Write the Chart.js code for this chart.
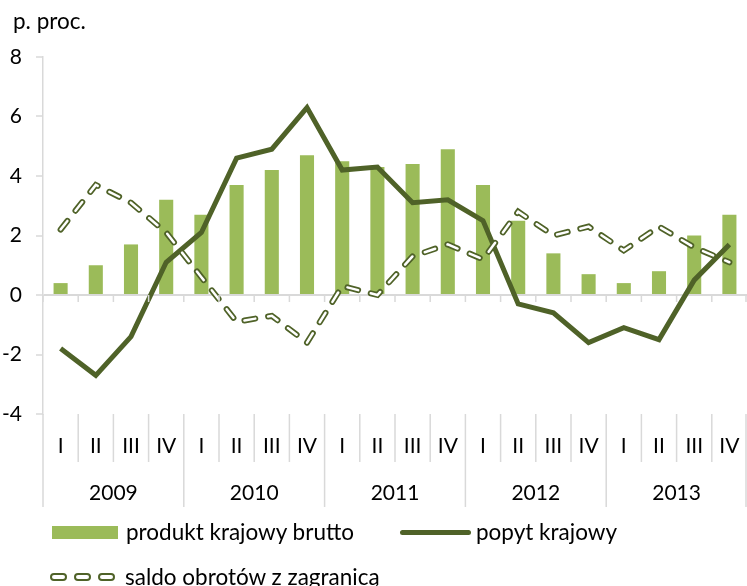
<!DOCTYPE html>
<html lang="pl">
<head>
<meta charset="utf-8">
<script src="https://cdn.jsdelivr.net/npm/chart.js@4.4.0/dist/chart.umd.min.js"></script>
<style>
    html, body { margin: 0; padding: 0; background: #fff; }
    #wrap { position: relative; width: 747px; height: 586px; overflow: hidden; font-family: Lato, sans-serif; }
    #chart { position: absolute; left: 0; top: 0; }
    .unit { position: absolute; left: 13px; top: 9px; height: 24px; line-height: 24px; font-size: 22.5px; color: #000; }
    .legend-item { position: absolute; display: flex; align-items: center; height: 24px; line-height: 24px; font-size: 22.5px; color: #000; white-space: nowrap; }
    .sw-bar { width: 66px; height: 13px; background: #9BBB59; margin-right: 8px; }
    .sw-line { width: 71px; height: 5px; border-radius: 3px; background: #4F6228; margin-right: 5px; }
    .sw-dash { width: 13px; height: 4px; border: 2px solid #4F6228; border-radius: 5px; background: #fff; margin-right: 7px; }
</style>
</head>
<body>
<div id="wrap">
    <canvas id="chart" width="747" height="586"></canvas>
    <div class="unit">p. proc.</div>
    <div class="legend-item" style="left: 52px; top: 520px;"><span class="sw-bar"></span>produkt krajowy brutto</div>
    <div class="legend-item" style="left: 400px; top: 520px;"><span class="sw-line"></span>popyt krajowy</div>
    <div class="legend-item" style="left: 50px; top: 565px;"><span class="sw-dash"></span><span class="sw-dash"></span><span class="sw-dash"></span><span style="margin-left: 3px;">saldo obrotów z zagranicą</span></div>
</div>
<script>
// Data
const years = ['2009', '2010', '2011', '2012', '2013'];
const quarters = ['I', 'II', 'III', 'IV'];
const gdp = [0.4, 1.0, 1.7, 3.2, 2.7, 3.7, 4.2, 4.7, 4.5, 4.3, 4.4, 4.9, 3.7, 2.5, 1.4, 0.7, 0.4, 0.8, 2.0, 2.7];
const domesticDemand = [-1.8, -2.7, -1.4, 1.1, 2.1, 4.6, 4.9, 6.3, 4.2, 4.3, 3.1, 3.2, 2.5, -0.3, -0.6, -1.6, -1.1, -1.5, 0.5, 1.7];
const netExports = [2.2, 3.7, 3.1, 2.1, 0.6, -0.9, -0.7, -1.6, 0.3, 0.0, 1.3, 1.7, 1.2, 2.8, 2.0, 2.3, 1.5, 2.3, 1.6, 1.1];

const labels = years.flatMap(() => quarters);
const font = { family: 'Lato', size: 21 };
const gridGray = '#D9D9D9';

// Quarter / year separators below the plot and ticks on the zero line
const categorySeparators = {
    id: 'categorySeparators',
    afterDraw(chart) {
        const { ctx, chartArea, scales: { x, x2, y } } = chart;
        const step = x.width / labels.length;
        const zero = y.getPixelForValue(0);
        ctx.save();
        ctx.strokeStyle = gridGray;
        ctx.lineWidth = 1.5;
        for (let i = 0; i <= labels.length; i++) {
            const px = Math.min(x.left + i * step, chart.width - 1);
            const isYear = i % quarters.length === 0;
            ctx.beginPath();
            ctx.moveTo(px, zero);
            ctx.lineTo(px, zero + 7);
            ctx.moveTo(px, chartArea.bottom);
            ctx.lineTo(px, isYear ? x2.bottom : x.bottom);
            ctx.stroke();
        }
        ctx.restore();
    }
};

// the x axes should use the full width up to the right edge
function noSidePadding(scale) {
    scale.paddingLeft = 0;
    scale.paddingRight = 0;
}

const ctx = document.getElementById('chart').getContext('2d');
new Chart(ctx, {
    type: 'bar',
    data: {
        labels: labels,
        datasets: [
            {
                type: 'line',
                label: 'saldo obrotów z zagranicą',
                data: netExports,
                borderColor: '#FFFFFF',
                borderWidth: 2.5,
                borderDash: [11, 13],
                borderCapStyle: 'round',
                pointRadius: 0,
                order: 0
            },
            {
                type: 'line',
                label: 'saldo obrotów z zagranicą',
                data: netExports,
                borderColor: '#4F6228',
                borderWidth: 6,
                borderDash: [11, 13],
                borderCapStyle: 'round',
                pointRadius: 0,
                order: 1
            },
            {
                type: 'line',
                label: 'popyt krajowy',
                data: domesticDemand,
                borderColor: '#4F6228',
                borderWidth: 5,
                pointRadius: 0,
                order: 2
            },
            {
                label: 'produkt krajowy brutto',
                data: gdp,
                backgroundColor: '#9BBB59',
                barPercentage: 1,
                categoryPercentage: 0.4,
                order: 3
            }
        ]
    },
    options: {
        responsive: false,
        animation: false,
        layout: {
            padding: { left: 0, right: 0, top: 57, bottom: 79 }
        },
        scales: {
            y: {
                min: -4,
                max: 8,
                ticks: { stepSize: 2, padding: 14, color: '#000', font: { family: 'Lato', size: 21 } },
                grid: {
                    color: (c) => c.tick && c.tick.value === 0 ? gridGray : 'transparent',
                    lineWidth: 2,
                    tickColor: gridGray,
                    tickLength: 7,
                    tickWidth: 1.5
                },
                border: { color: gridGray, width: 1.5 },
                afterFit(scale) { scale.width = 43; }
            },
            x: {
                ticks: { color: '#000', font: font, padding: 20, maxRotation: 0, autoSkip: false },
                grid: { display: false, drawTicks: false },
                border: { display: false },
                afterFit(scale) {
                    scale.height = 48;
                    noSidePadding(scale);
                }
            },
            x2: {
                type: 'category',
                labels: years,
                position: 'bottom',
                offset: true,
                weight: 1,
                ticks: { color: '#000', font: font, padding: 19, maxRotation: 0 },
                grid: { display: false, drawTicks: false },
                border: { display: false },
                afterFit(scale) {
                    scale.height = 45;
                    noSidePadding(scale);
                }
            }
        },
        plugins: {
            legend: { display: false },
            tooltip: { enabled: false }
        }
    },
    plugins: [categorySeparators]
});
</script>
</body>
</html>
